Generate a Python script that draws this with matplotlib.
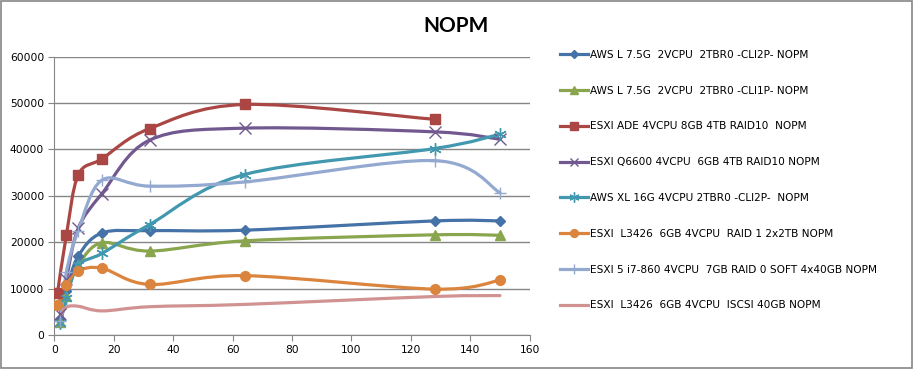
import matplotlib
matplotlib.use("Agg")
import matplotlib.pyplot as plt
from matplotlib.path import Path
from matplotlib.patches import PathPatch, Rectangle
from matplotlib.lines import Line2D

# Data
# -----------------------
x_full = [2, 4, 8, 16, 32, 64, 128, 150]

aws_l_cli2p = [3500, 9500, 17000, 22000, 22500, 22600, 24600, 24600]
aws_l_cli1p = [2900, 8500, 15000, 19900, 18100, 20300, 21600, 21500]
esxi_ade_x = [1, 4, 8, 16, 32, 64, 128]
esxi_ade = [9000, 21500, 34500, 38000, 44500, 49700, 46500]
esxi_q6600 = [4500, 12000, 23000, 30500, 42000, 44600, 43800, 42200]
aws_xl_cli2p = [2500, 8000, 15000, 17600, 23800, 34600, 40200, 43300]
esxi_l3426_x = [1, 4, 8, 16, 32, 64, 128, 150]
esxi_l3426_r1 = [6400, 10800, 13800, 14400, 10900, 12800, 9900, 11800]
esxi5_i7 = [3000, 13500, 22500, 33400, 32100, 33000, 37600, 30700]
esxi_l3426_iscsi = [4000, 6000, 6200, 5200, 6100, 6600, 8300, 8500]

labels = ['AWS L 7.5G  2VCPU  2TBR0 -CLI2P- NOPM',
          'AWS L 7.5G  2VCPU  2TBR0 -CLI1P- NOPM',
          'ESXI ADE 4VCPU 8GB 4TB RAID10  NOPM',
          'ESXI Q6600 4VCPU  6GB 4TB RAID10 NOPM',
          'AWS XL 16G 4VCPU 2TBR0 -CLI2P-  NOPM',
          'ESXI  L3426  6GB 4VCPU  RAID 1 2x2TB NOPM',
          'ESXI 5 i7-860 4VCPU  7GB RAID 0 SOFT 4x40GB NOPM',
          'ESXI  L3426  6GB 4VCPU  ISCSI 40GB NOPM']

series = [(x_full, aws_l_cli2p), (x_full, aws_l_cli1p), (esxi_ade_x, esxi_ade),
          (x_full, esxi_q6600), (x_full, aws_xl_cli2p), (esxi_l3426_x, esxi_l3426_r1),
          (x_full, esxi5_i7), (x_full, esxi_l3426_iscsi)]

colors = ['#4572A7', '#89A54E', '#AA4643', '#71588F',
          '#4198AF', '#DB843D', '#93A9CF', '#D19392']
markers = ['D', '^', 's', 'x', (6, 2, 0), 'o', '+', None]
msizes = [5, 7, 6.5, 8, 9, 7, 9, 0]


# Excel style smoothed line (Catmull-Rom as bezier curve)
def smooth_path(xs, ys):
    pts = list(zip(xs, ys))
    verts = [pts[0]]
    codes = [Path.MOVETO]
    n = len(pts)
    for i in range(n - 1):
        p0 = pts[i - 1] if i > 0 else pts[i]
        p1 = pts[i]
        p2 = pts[i + 1]
        p3 = pts[i + 2] if i + 2 < n else pts[i + 1]
        c1 = (p1[0] + (p2[0] - p0[0]) / 6.0, p1[1] + (p2[1] - p0[1]) / 6.0)
        c2 = (p2[0] - (p3[0] - p1[0]) / 6.0, p2[1] - (p3[1] - p1[1]) / 6.0)
        verts += [c1, c2, p2]
        codes += [Path.CURVE4] * 3
    return Path(verts, codes)


fig = plt.figure(figsize=(9.14, 3.69), dpi=100)
ax = fig.add_axes([0.0596, 0.0921, 0.5199, 0.7542])

grey = '#868686'
handles = []
for (xs, ys), c, m, ms in zip(series, colors, markers, msizes):
    ax.add_patch(PathPatch(smooth_path(xs, ys), fill=False, edgecolor=c,
                           lw=2.3, zorder=3, capstyle='round'))
    if m is not None:
        ax.plot(xs, ys, linestyle='none', marker=m, markersize=ms, color=c,
                markeredgecolor=c, markeredgewidth=1.0, zorder=4)
    handles.append(Line2D([], [], color=c, lw=2.3, marker=m, markersize=ms * 0.8,
                          markeredgewidth=1.0))

ax.set_xlim(0, 160)
ax.set_ylim(0, 60000)
ax.set_xticks(range(0, 161, 20))
ax.set_yticks(range(0, 60001, 10000))
ax.yaxis.grid(True, color=grey, lw=1.0)
ax.set_axisbelow(True)
for s in ['top', 'right']:
    ax.spines[s].set_visible(False)
for s in ['left', 'bottom']:
    ax.spines[s].set_color(grey)
ax.tick_params(colors=grey, labelcolor='black', labelsize=7.7, length=4, direction='out')

fig.text(0.499, 0.93, 'NOPM', ha='center', va='center', fontsize=15,
         fontweight='bold', family=['Lato', 'DejaVu Sans'])

fig.legend(handles, labels, loc='upper left', bbox_to_anchor=(0.608, 0.876),
           frameon=False, fontsize=7.6, handlelength=2.65, handletextpad=0.2,
           labelspacing=2.44, borderaxespad=0)

fig.patches.append(Rectangle((0.001, 0.002), 0.997, 0.995, transform=fig.transFigure,
                             fill=False, edgecolor=grey, lw=1.2))

plt.savefig('out.png', dpi=100)
